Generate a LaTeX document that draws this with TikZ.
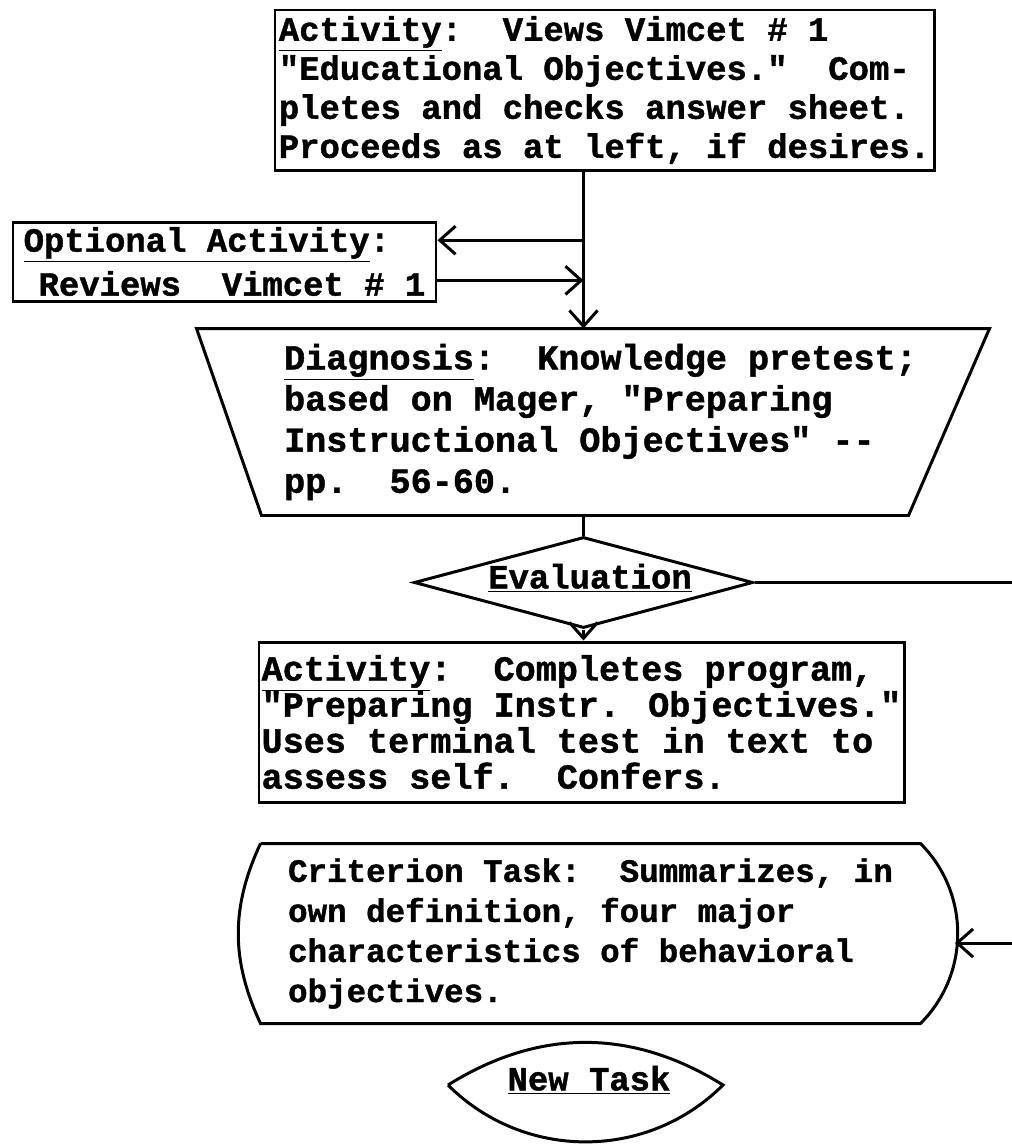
\documentclass[tikz,border=0pt]{standalone}
\usepackage{fontspec}
\newfontfamily\typer{Liberation Mono}[BoldFeatures={FakeBold=1.2}]
\newcommand{\typesize}[2]{\typer\bfseries\fontsize{#1}{#2}\selectfont\lineskiplimit=-30pt}
\usetikzlibrary{shapes}
\usetikzlibrary{arrows.meta}
\usetikzlibrary{positioning}
\usetikzlibrary{calc}

\begin{document}
\begin{tikzpicture}
  [every node/.style = {font=\typesize{19.3}{22.2}, align=left, inner sep=1pt},
   box/.style = {draw, rectangle},
   arr/.style = {-{Straight Barb[length=9pt, width=16pt]}},
   line width=1.7pt]
  \useasboundingbox (0,0) rectangle (20.24,-22.94);

  \node [box, minimum width=13.18cm, minimum height=3.2cm] (act1) at (12.09,-1.8)
    {\underline{Activity}:\ \ Views Vimcet \# 1\\
     "Educational Objectives."\ \ Com-\\
     pletes and checks answer sheet.\\
     Proceeds as at left, if desires.};

  \node [box, font=\typesize{19.3}{25}, minimum width=8.46cm, minimum height=1.58cm] (opt) at (4.49,-5.23)
    {\underline{Optional Activity}:\\
     \hspace*{0.44em}Reviews\ \ Vimcet \# 1};

  \node [font=\typesize{20}{23.4}, minimum width=12.94cm, minimum height=3.68cm] (diag) at (12.01,-8.44)
    {\underline{Diagnosis}:\ \ Knowledge pretest;\\
     based on Mager, "Preparing\\
     Instructional Objectives" -{}-\\
     pp.\ \ 56-60.};

  \node [draw, diamond, minimum width=6.78cm, minimum height=1.82cm, inner sep=0pt] (eval) at (11.67,-11.65) {};
  \node (evaltext) at (11.8,-11.56) {\underline{Evaluation}};

  \node [box, font=\typesize{20}{20.5}, minimum width=12.9cm, minimum height=3.2cm] (act2) at (11.63,-14.44)
    {\underline{Activity}:\ \ Completes program,\\
     "Preparing Instr. Objectives."\\
     Uses terminal test in text to\\
     assess self.\ \ Confers.};

  \node [font=\typesize{18.5}{22.8}, minimum width=13.14cm, minimum height=3.54cm] (crit) at (11.81,-18.67)
    {Criterion Task:\ \ Summarizes, in\\
     own definition, four major\\
     characteristics of behavioral\\
     objectives.};

  \node (newtask) at (11.78,-21.6) {\underline{New Task}};

  \coordinate (rim) at (20.24,0);
  \coordinate (ntl) at (8.96,-21.7);
  \coordinate (ntr) at (14.46,-21.7);
  \coordinate (optin) at ($(opt.north east)!0.24!(opt.south east)$);
  \coordinate (optout) at ($(opt.north east)!0.73!(opt.south east)$);
  \coordinate (critin) at (19.1,-18.86);

  \draw ($(diag.south west)+(-0.28,0)$) -- ($(diag.south east)+(-0.34,0)$) -- ($(diag.north east)+(1.28,0)$)
    -- ($(diag.north west)+(-1.58,0)$) -- cycle;
  \draw (crit.north west) -- (crit.north east) to[bend left=45] (crit.south east)
    -- (crit.south west) to[bend left=25] (crit.north west);
  \draw (ntl) to[bend left=32] (ntr) to[bend left=45] (ntl);

  \draw [arr] (act1.south -| eval.north) -- (diag.north -| eval.north);
  \draw [arr] (optin -| eval.north) -- (optin);
  \draw [arr] (optout) -- (optout -| eval.north);
  \draw (diag.south -| eval.north) -- (eval.north);
  \draw (eval.east) -- (eval.east -| rim);
  \draw [arr] (eval.south) -- (act2.north -| eval.south);
  \draw [arr] (critin -| rim) -- (critin);
\end{tikzpicture}
\end{document}
